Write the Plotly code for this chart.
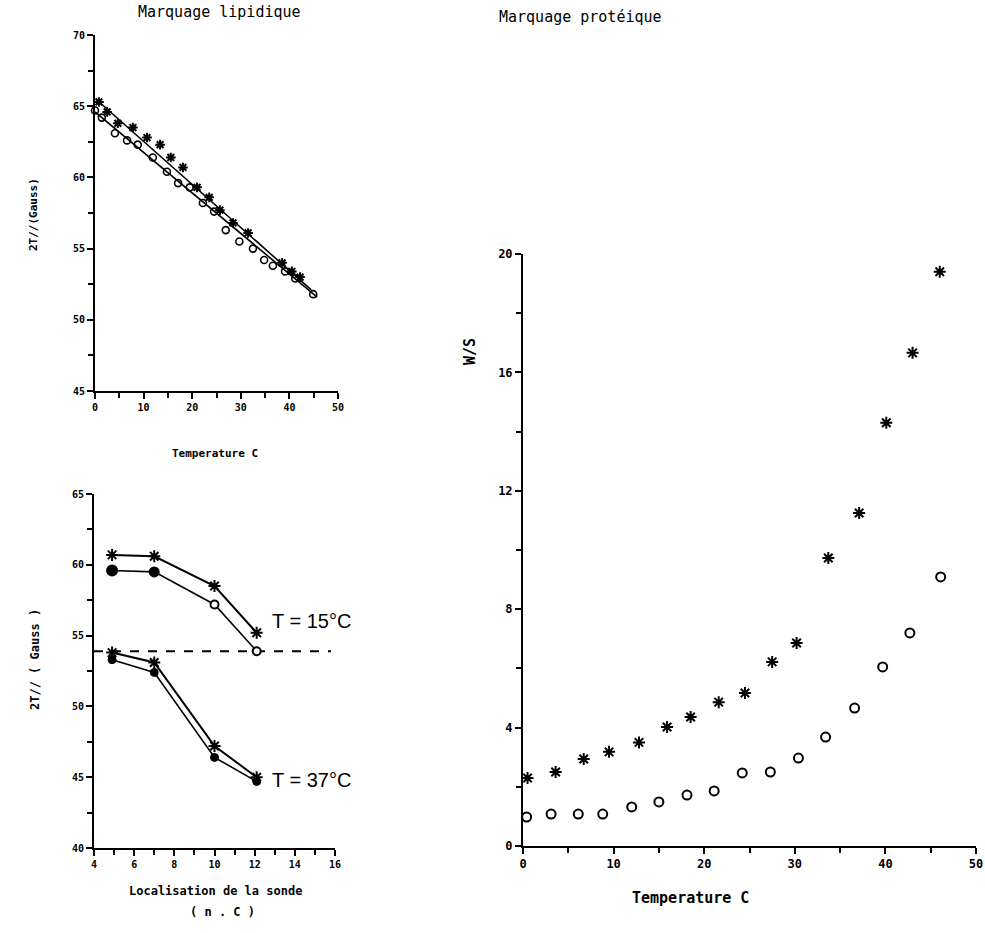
import plotly.graph_objects as go

# ---------------- Data ----------------
# Top-left: Marquage lipidique (2T// vs temperature)
lip_temp_star = [0.8, 2.5, 4.7, 7.8, 10.7, 13.4, 15.6, 18.1, 21.0, 23.5, 25.7, 28.4, 31.5, 38.5, 40.5, 42.2]
lip_val_star = [65.3, 64.6, 63.8, 63.5, 62.8, 62.3, 61.4, 60.7, 59.3, 58.6, 57.7, 56.8, 56.1, 54.0, 53.4, 53.0]
lip_temp_circ = [0.0, 1.4, 4.1, 6.6, 8.8, 11.9, 14.8, 17.1, 19.5, 22.2, 24.5, 26.9, 29.7, 32.5, 34.8, 36.6, 39.1, 41.2, 44.9]
lip_val_circ = [64.7, 64.2, 63.1, 62.6, 62.3, 61.4, 60.4, 59.6, 59.3, 58.2, 57.6, 56.3, 55.5, 55.0, 54.2, 53.8, 53.4, 52.9, 51.8]
fit_star_temp = [0.5, 44.5]
fit_star_val = [65.4, 52.1]
fit_circ_temp = [0.0, 45.7]
fit_circ_val = [64.6, 51.6]

# Bottom-left: 2T// vs probe position (n. C)
probe_pos = [4.9, 7.0, 10.0, 12.1]
t15_star = [60.7, 60.6, 58.5, 55.2]
t15_circ = [59.6, 59.5, 57.2, 53.9]
t37_star = [53.8, 53.1, 47.2, 45.0]
t37_circ = [53.3, 52.4, 46.4, 44.7]
ref_level_x = [4.0, 15.8]
ref_level_y = [53.9, 53.9]

# Right: Marquage protéique (W/S vs temperature)
prot_temp_star = [0.5, 3.6, 6.7, 9.5, 12.8, 15.9, 18.5, 21.6, 24.5, 27.5, 30.2, 33.7, 37.1, 40.1, 43.0, 46.0]
prot_ws_star = [2.3, 2.5, 2.94, 3.18, 3.5, 4.02, 4.36, 4.86, 5.17, 6.22, 6.86, 9.73, 11.25, 14.3, 16.66, 19.4]
prot_temp_circ = [0.4, 3.1, 6.1, 8.8, 12.0, 15.0, 18.1, 21.1, 24.2, 27.3, 30.4, 33.4, 36.6, 39.7, 42.7, 46.1]
prot_ws_circ = [0.98, 1.08, 1.08, 1.08, 1.32, 1.49, 1.72, 1.86, 2.47, 2.5, 2.97, 3.68, 4.66, 6.05, 7.2, 9.09]

probe_tickvals = [4, 6, 8, 10, 12, 14, 16]
probe_ticktext = ["4", "6", "8", "10", "12", "14", "16"]

# ---------------- Figure ----------------
W, H = 985, 933
BLACK = "black"
MONO = "DejaVu Sans Mono"

fig = go.Figure()

def px_x(p):
    return p / W

def px_y(p):
    return 1 - p / H

# Top-left traces
fig.add_trace(go.Scatter(x=fit_star_temp, y=fit_star_val, mode="lines",
                         line=dict(color=BLACK, width=1.6), xaxis="x", yaxis="y"))
fig.add_trace(go.Scatter(x=fit_circ_temp, y=fit_circ_val, mode="lines",
                         line=dict(color=BLACK, width=1.6), xaxis="x", yaxis="y"))
fig.add_trace(go.Scatter(x=lip_temp_star, y=lip_val_star, mode="markers",
                         marker=dict(symbol="asterisk-open", size=8, color=BLACK,
                                     line=dict(color=BLACK, width=2)),
                         cliponaxis=False, xaxis="x", yaxis="y"))
fig.add_trace(go.Scatter(x=lip_temp_circ, y=lip_val_circ, mode="markers",
                         marker=dict(symbol="circle-open", size=7, color=BLACK,
                                     line=dict(color=BLACK, width=1.6)),
                         cliponaxis=False, xaxis="x", yaxis="y"))

# Bottom-left traces
fig.add_trace(go.Scatter(x=ref_level_x, y=ref_level_y, mode="lines",
                         line=dict(color=BLACK, width=2, dash="dash"),
                         cliponaxis=False, xaxis="x2", yaxis="y2"))
for ys in (t15_star, t37_star):
    fig.add_trace(go.Scatter(x=probe_pos, y=ys, mode="lines+markers",
                             line=dict(color=BLACK, width=2),
                             marker=dict(symbol="asterisk-open", size=10, color=BLACK,
                                         line=dict(color=BLACK, width=2)),
                             cliponaxis=False, xaxis="x2", yaxis="y2"))
fig.add_trace(go.Scatter(x=probe_pos, y=t15_circ, mode="lines+markers",
                         line=dict(color=BLACK, width=1.6),
                         marker=dict(symbol="circle", size=[10, 9, 8, 8],
                                     color=[BLACK, BLACK, "white", "white"], opacity=1,
                                     line=dict(color=BLACK, width=2)),
                         cliponaxis=False, xaxis="x2", yaxis="y2"))
fig.add_trace(go.Scatter(x=probe_pos, y=t37_circ, mode="lines+markers",
                         line=dict(color=BLACK, width=1.6),
                         marker=dict(symbol="circle", size=8, color=BLACK, opacity=1,
                                     line=dict(color=BLACK, width=1)),
                         cliponaxis=False, xaxis="x2", yaxis="y2"))

# Right traces
fig.add_trace(go.Scatter(x=prot_temp_star, y=prot_ws_star, mode="markers",
                         marker=dict(symbol="asterisk-open", size=10, color=BLACK,
                                     line=dict(color=BLACK, width=2)),
                         cliponaxis=False, xaxis="x3", yaxis="y3"))
fig.add_trace(go.Scatter(x=prot_temp_circ, y=prot_ws_circ, mode="markers",
                         marker=dict(symbol="circle-open", size=9, color=BLACK,
                                     line=dict(color=BLACK, width=2)),
                         cliponaxis=False, xaxis="x3", yaxis="y3"))

tickfont_small = dict(family=MONO, size=10, color=BLACK, weight="bold")
tickfont_big = dict(family=MONO, size=12, color=BLACK, weight="bold")

def axis(domain, rng, anchor, tickvals=None, ticktext=None, dtick=None, minor_dtick=None,
         font=tickfont_small, ticklen=6):
    d = dict(domain=domain, range=rng, anchor=anchor, showgrid=False, zeroline=False,
             automargin=False,
             showline=True, linecolor=BLACK, linewidth=2, ticks="outside", ticklen=ticklen,
             tickwidth=2, tickcolor=BLACK, tickfont=font, fixedrange=True)
    if tickvals is not None:
        d.update(tickmode="array", tickvals=tickvals)
        if ticktext is not None:
            d.update(ticktext=ticktext)
    elif dtick is not None:
        d.update(tick0=0, dtick=dtick)
    if minor_dtick is not None:
        d["minor"] = dict(dtick=minor_dtick, ticks="outside", ticklen=ticklen - 1,
                          tickwidth=2, tickcolor=BLACK, showgrid=False)
    return d

fig.update_layout(
    template="none",
    width=W, height=H,
    margin=dict(l=0, r=0, t=0, b=0, autoexpand=False),
    paper_bgcolor="white", plot_bgcolor="white",
    showlegend=False,
    xaxis=axis([px_x(95), px_x(338)], [0, 50], "y", dtick=10, minor_dtick=5),
    yaxis=axis([px_y(391), px_y(35)], [45, 70], "x", dtick=5, minor_dtick=2.5),
    xaxis2=axis([px_x(94), px_x(335)], [4, 16], "y2", tickvals=probe_tickvals,
                ticktext=probe_ticktext, minor_dtick=1),
    yaxis2=axis([px_y(848), px_y(494)], [40, 65], "x2", dtick=5, minor_dtick=2.5),
    xaxis3=axis([px_x(523), px_x(976)], [0, 50], "y3", dtick=10, minor_dtick=5,
                font=tickfont_big),
    yaxis3=axis([px_y(846), px_y(254)], [0, 20], "x3", dtick=4, minor_dtick=2,
                font=tickfont_big),
)

def note(text, x, y, size, family=MONO, angle=0, weight="normal", xanchor="center"):
    fig.add_annotation(text=text, x=px_x(x), y=px_y(y), xref="paper", yref="paper",
                       showarrow=False, textangle=angle, xanchor=xanchor, yanchor="middle",
                       font=dict(family=family, size=size, color=BLACK, weight=weight))

note("Marquage lipidique", 219, 12, 15)
note("Marquage protéique", 580, 17, 15)
note("Temperature C", 215, 453, 11, weight="bold")
note("2T//(Gauss)", 33, 215, 11, angle=-90, weight="bold")
note("2T// ( Gauss )", 35, 660, 12, angle=-90, weight="bold")
note("Localisation de la sonde", 215, 891, 12, weight="bold")
note("( n . C )", 222, 912, 12, weight="bold")
note("W/S", 470, 352, 15, angle=-90, weight="bold")
note("Temperature C", 690, 898, 15, weight="bold")
note("T = 15°C", 270, 621, 20, family="Liberation Sans", xanchor="left")
note("T = 37°C", 270, 780, 20, family="Liberation Sans", xanchor="left")

fig.write_html(
    "out.html",
    config={"displayModeBar": False},
    post_script="document.body.style.margin='0';document.body.style.overflow='hidden';"
                "document.documentElement.style.overflow='hidden';",
)
